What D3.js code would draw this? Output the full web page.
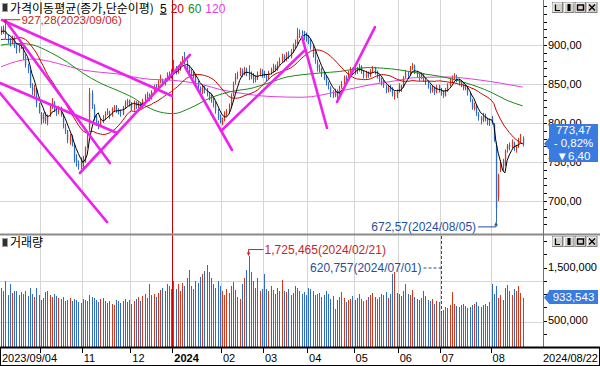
<!DOCTYPE html>
<html>
<head>
<meta charset="utf-8">
<script src="https://cdn.jsdelivr.net/npm/d3@7"></script>
<style>
  body { margin: 0; background: #fff; }
  svg { display: block; }
</style>
</head>
<body>
<div id="chart"></div>
<script>
// ---- data (KOSDAQ daily 2023/09/04 - 2024/08/22) ----

// closes before the first visible day, only used for the 5/20 day averages
const priorCloses = [912, 908, 915, 902, 898, 890, 886, 884, 893, 899, 905, 912, 916, 921, 915, 909, 917, 924, 912];

// [open, high, low, close] per trading day
const candles = [
  // 2023/09
  [915,924,913,921],[922,925,914,917],[918,927.28,908,912],[910,913,902,906],[905,909,898,904],
  [903,912,901,908],[909,911,896,899],[898,901,889,893],[892,900,890,898],[899,905,895,901],
  [898,900,881,884],[885,888,871,874],[872,876,864,868],[866,868,845,848],[846,851,836,842],
  [840,849,834,845],[843,845,820,825],[822,826,812,815],
  // 10
  [812,814,798,805],[803,813,800,810],[811,814,799,803],[800,811,797,808],[810,823,808,820],
  [821,832,818,827],[826,828,814,818],[816,820,809,814],[813,822,811,818],[819,821,808,812],
  [810,812,793,796],[795,799,786,790],[789,791,774,778],[776,786,772,782],[783,785,770,775],
  [772,774,749,752],[754,760,744,750],[748,752,740,745],[744,756,741,752],
  // 11
  [754,758,742,748],[750,770,749,768],[770,787,768,784],[792,845,790,839],[838,842,818,822],
  [820,824,803,806],[808,811,796,800],[799,803,792,798],[797,806,795,803],[802,810,800,806],
  [808,815,805,812],[813,819,810,815],[814,816,805,808],[809,820,808,818],[819,823,815,820],
  [821,823,813,817],[816,819,811,815],[815,817,808,812],[811,822,810,820],[821,829,819,826],
  [825,831,822,828],[829,830,821,826],
  // 12
  [825,827,816,820],[818,829,816,826],[827,828,818,822],[821,828,819,825],[826,827,817,821],
  [820,831,819,829],[830,837,828,834],[835,840,831,836],[837,838,828,832],[831,842,830,840],
  [841,849,839,846],[848,850,840,844],[843,855,842,852],[853,862,851,858],[855,857,847,851],
  [850,858,848,855],[854,865,853,862],[863,866,855,858],[859,869,857,866],
  // 2024/01
  [866,881,865,872],[871,873,862,866],[865,874,863,870],[869,879,867,876],[877,886,874,880],
  [882,891,875,878],[878,881,866,870],[872,874,862,866],[867,869,856,860],[859,866,857,862],
  [861,863,849,852],[851,854,842,846],[845,847,835,840],[839,849,837,845],[846,848,838,842],
  [843,845,834,838],[837,840,829,834],[835,838,826,830],[829,832,820,826],[825,828,812,816],
  [814,818,804,808],[807,811,799.5,801],
  // 02
  [799,807,797,803],[804,815,802,812],[811,818,808,815],[814,825,812,822],[823,838,821,835],
  [836,853,834,850],[852,864,849,860],[861,866,856,862],[863,871,860,866],[867,870,859,864],
  [863,872,861,868],[869,871,860,865],[866,874,855,860],[859,866,856,862],[862,864,851,856],
  [855,861,852,858],[857,866,855,862],[863,870,860,866],[867,869,858,862],
  // 03
  [863,867,858,862],[861,863,853,858],[857,867,855,864],[865,871,862,868],[867,876,865,872],
  [873,875,866,870],[869,879,867,876],[877,884,874,880],[881,889,878,885],[886,888,878,882],
  [881,891,879,888],[889,892,882,886],[885,895,883,892],[893,902,890,900],[901,907,896,904],
  [903,922,901,912],[913,920,909,916],[917,919,910,915],[916,918,906,914],[913,916,904,910],
  // 04
  [911,913,901,905],[906,908,894,898],[897,899,884,888],[889,892,876,880],[878,881,866,870],
  [869,875,865,868],[869,871,859,862],[861,866,855,858],[859,861,848,852],[850,853,843,848],
  [845,847,833,838],[837,842,832,836],[835,844,833,840],[841,843,830,834],[833,848,832,845],
  [846,854,844,850],[851,861,849,858],[859,861,852,856],[855,867,854,864],[865,872,862,868],
  [869,871,861,866],
  // 05
  [865,873,862,870],[869,872,863,868],[869,876,866,872],[873,874,863,866],[866,868,857,860],
  [859,867,857,864],[865,866,858,862],[861,869,859,866],[867,873,864,870],[871,872,862,865],
  [866,867,857,860],[860,862,852,856],[857,858,848,852],[853,855,845,848],[846,849,838,842],
  [841,849,839,846],[847,849,840,844],[845,846,834,838],[834,841,830,839],[837,843,832,840],
  // 06
  [841,851,839,848],[847,849,840,845],[846,860,845,858],[859,868,857,865],[864,866,857,862],
  [863,873,861,870],[871,877,868,872],[873,875,863,866],[865,867,858,862],[861,863,854,858],
  [857,865,856,862],[863,864,853,856],[855,858,849,852],[851,853,844,848],[847,849,838,842],
  [841,848,839,845],[846,847,836,840],[839,849,838,846],[847,849,839,842],
  // 07
  [843,845,835,840],[839,842,832,836],[835,845,834,842],[841,851,840,848],[849,858,847,855],
  [854,861,852,858],[859,864,855,860],[861,862,852,856],[855,857,848,852],[853,855,846,850],
  [849,851,842,845],[844,850,842,846],[845,847,835,838],[837,839,827,830],[829,831,817,820],
  [818,826,816,822],[821,823,809,812],[811,814,803,808],[807,809,798,804],[803,813,801,810],
  [809,812,802,806],[805,807,797,802],[801,806,796,800],
  // 08
  [805,809,798,802],[798,800,776,779],[772,776,672.57,691],[705,735,700,733],[740,752,737,749],
  [752,754,738,743],[747,766,745,764],[766,773,762,771],[772,775,765,769],[771,779,768,776],
  [774,776,764,768],[767,772,762,769],[770,781,768,777],[778,786,775,779.87],[780,783,770,773.47]
];

// volume per day, thousands of units
const volumes = [
  1110,1060,1250,990,1180,1020,1060,1050,980,1040,1000,1060,960,1120,1000,940,1110,980,
  880,920,1040,1050,980,940,1000,960,930,900,950,870,880,920,860,900,880,850,830,
  900,880,860,980,940,920,880,850,900,930,870,830,860,820,800,880,860,830,870,900,850,880,
  820,860,900,940,870,960,1000,920,1190,980,1000,950,1020,1080,1120,1060,1180,1150,1100,
  1240,1100,1180,1050,1200,1150,1300,1460,1150,1100,1250,1200,1320,1380,1430,1550,1420,1300,1180,1120,1250,1160,
  1050,980,1100,1020,1160,1220,1080,940,900,1180,1300,1450,1725.465,1420,1240,1120,1300,1050,1100,
  1370,1100,1060,1160,1080,1000,1120,1050,1260,1060,1040,1100,980,1020,1150,1120,1060,1000,1040,980,
  1120,1100,1060,980,1000,1020,950,980,1060,1000,900,960,720,880,940,1040,920,850,880,900,960,
  880,920,1000,900,860,890,940,980,1020,950,900,940,1000,980,1040,920,1000,1380,1420,1010,
  1000,960,1050,1190,1000,980,1080,940,900,880,920,1050,960,880,860,900,820,860,840,
  620.757,700,760,740,800,1030,820,780,760,800,820,780,740,760,800,820,850,780,760,800,820,780,840,
  1180,1000,1160,920,980,880,1120,1170,1050,980,1100,1060,1150,1020,933.543
];

// 60 and 120 day averages as [day index, value]
const ma60Pts = [[0,900],[8.6,902],[14.5,900],[22,891],[30,878],[37,864],[45,851],[52.5,842],[60,832],
  [66,821],[72,814],[78,812],[85.5,819],[94.6,832],[103.6,840],[114,845],[121.7,852],[129.4,859],
  [136.7,862],[144,864],[153,866],[165.6,871],[180.5,868],[186.5,865],[201.8,858],[210.8,851],
  [221.3,840],[229,829],[236,822]];
const ma120Pts = [[0,872],[8.6,880],[14.5,882],[22,879],[30,873],[37,868],[45,865],[52.5,863],
  [60,859],[67.4,856],[76.5,855],[91.4,849],[99,843],[106.8,839],[121.7,834],[136.7,833],[152,840],
  [167,849],[180.5,855],[186.5,858],[201.8,859],[216.8,855],[236,846]];

// hand drawn trend lines [index1, price1, index2, price2]
const trendLines = [
  [0.45,932,77.4,834.6],[1.8,932,49.3,748.7],[-0.45,851.3,52.5,787.2],[-0.45,838.5,48,673],
  [35.7,735.9,85.5,887.2],[83.3,871.8,104.5,765.4],[100,791,137.6,893.6],
  [136.2,910.3,147.5,793.6],[152,826.9,169.2,923]
];

const monthStarts = [18, 37, 59, 78, 100, 119, 139, 160, 180, 199, 222];
const monthLabels = ["", "11", "12", "2024", "02", "03", "04", "05", "06", "07", "08"];
const firstDate = "2023/09/04", lastDate = "2024/08/22";

const priceTicks = [900, 850, 800, 750, 700];
const priceTickLabels = ["900,00", "850,00", "800,00", "750,00", "700,00"];
const volTicks = [1500, 1000, 500];
const volTickLabels = ["1,500,000", "1,000,000", "500,000"];
const volGrid = [1240, 470];

const maPeriods = [5, 20, 60, 120];
const maColors = ["#000000", "#cc0000", "#1a8a1a", "#e040e0"];

// ---- layout ----
const W = 600, H = 366, plotR = 543;
const priceTop = 0, priceBot = 234, volTop = 235, volBot = 347;
const upC = "#d4381c", dnC = "#2f6cc6";
const FONT = "'Liberation Sans', Arial, sans-serif";
const KFONT = "'Noto Sans CJK KR', 'Noto Sans', sans-serif";

const svg = d3.select("#chart").append("svg")
  .attr("width", W).attr("height", H)
  .style("font-family", FONT);

svg.append("rect").attr("width", W).attr("height", H).attr("fill", "#fff");

const x = d3.scaleLinear().domain([0, 236]).range([1, 522.6]);
const y = d3.scaleLinear().domain([700, 900]).range([201, 45]);
const yv = d3.scaleLinear().domain([0, 2000]).range([volBot, volBot - 106]);

const defs = svg.append("defs");
defs.append("clipPath").attr("id", "clipP").append("rect")
  .attr("x", 0).attr("y", priceTop).attr("width", plotR).attr("height", priceBot - priceTop);
defs.append("clipPath").attr("id", "clipV").append("rect")
  .attr("x", 0).attr("y", volTop).attr("width", plotR).attr("height", volBot - volTop);

// gridlines
const grid = svg.append("g").attr("shape-rendering", "crispEdges").attr("stroke", "#d6d6d6");
grid.selectAll("line.hp").data(priceTicks).join("line")
  .attr("x1", 0).attr("x2", plotR).attr("y1", d => Math.round(y(d)) + 0.5).attr("y2", d => Math.round(y(d)) + 0.5);
grid.selectAll("line.hv").data(volGrid).join("line")
  .attr("x1", 0).attr("x2", plotR).attr("y1", d => Math.round(yv(d)) + 0.5).attr("y2", d => Math.round(yv(d)) + 0.5);
grid.selectAll("line.vm").data(monthStarts.filter((d, i) => monthLabels[i] !== "2024")).join("line")
  .attr("x1", d => Math.round(x(d - 0.5)) + 0.5).attr("x2", d => Math.round(x(d - 0.5)) + 0.5)
  .attr("y1", 0).attr("y2", volBot);

// year boundary
const yearX = Math.round(x(monthStarts[3] - 0.5)) + 0.5;
svg.append("line").attr("x1", yearX).attr("x2", yearX).attr("y1", 0).attr("y2", volBot)
  .attr("stroke", "#d00000").attr("shape-rendering", "crispEdges");

// ---- price pane ----
const gP = svg.append("g").attr("clip-path", "url(#clipP)");

const cg = gP.append("g");
cg.selectAll("line").data(candles).join("line")
  .attr("x1", (d, i) => Math.round(x(i)) + 0.5).attr("x2", (d, i) => Math.round(x(i)) + 0.5)
  .attr("y1", d => y(d[1])).attr("y2", d => y(d[2]))
  .attr("stroke", d => d[3] >= d[0] ? upC : dnC).attr("stroke-width", 1);
cg.selectAll("rect").data(candles).join("rect")
  .attr("x", (d, i) => Math.round(x(i)) - 0.1).attr("width", 1.3)
  .attr("y", d => y(Math.max(d[0], d[3])))
  .attr("height", d => Math.max(1, Math.abs(y(d[0]) - y(d[3]))))
  .attr("fill", d => d[3] >= d[0] ? upC : dnC);

// moving averages
const allCloses = priorCloses.concat(candles.map(d => d[3]));
const off = priorCloses.length;
function movingAvg(n) {
  return candles.map((d, i) => [i, d3.mean(allCloses.slice(i + off - n + 1, i + off + 1))]);
}
const line = d3.line().x(d => x(d[0])).y(d => y(d[1]));
const smooth = d3.line().x(d => x(d[0])).y(d => y(d[1])).curve(d3.curveMonotoneX);

gP.append("path").attr("d", smooth(ma120Pts)).attr("fill", "none").attr("stroke", maColors[3]).attr("stroke-width", 1);
gP.append("path").attr("d", smooth(ma60Pts)).attr("fill", "none").attr("stroke", maColors[2]).attr("stroke-width", 1);
gP.append("path").attr("d", line(movingAvg(20))).attr("fill", "none").attr("stroke", maColors[1]).attr("stroke-width", 1);
gP.append("path").attr("d", line(movingAvg(5))).attr("fill", "none").attr("stroke", maColors[0]).attr("stroke-width", 1);

// trend lines
gP.selectAll("line.trend").data(trendLines).join("line")
  .attr("x1", d => x(d[0])).attr("y1", d => y(d[1]))
  .attr("x2", d => x(d[2])).attr("y2", d => y(d[3]))
  .attr("stroke", "#ee22ee").attr("stroke-width", 2.6).attr("stroke-linecap", "round");

// high / low markers
const hiI = d3.maxIndex(candles, d => d[1]);
const loI = d3.minIndex(candles, d => d[2]);
const hx = x(hiI), hy = y(candles[hiI][1]);
svg.append("path").attr("d", `M${hx},${hy}V${hy - 4}H${hx + 15}`)
  .attr("fill", "none").attr("stroke", "#c02828");
svg.append("path").attr("d", `M${hx - 2},${hy - 3}L${hx},${hy}L${hx + 2},${hy - 3}Z`).attr("fill", "#c02828");
svg.append("text").attr("x", hx + 16).attr("y", hy - 4).attr("dy", "0.35em")
  .attr("fill", "#c02828").style("font-size", "11.5px")
  .text(`${d3.format(".2f")(candles[hiI][1]).replace(".", ",")}(2023/09/06)`);

const lx = x(loI), ly = y(candles[loI][2]);
svg.append("path").attr("d", `M${lx},${ly}V${ly + 4.5}H${lx - 18}`)
  .attr("fill", "none").attr("stroke", "#1f4f9e");
svg.append("path").attr("d", `M${lx - 2},${ly + 3}L${lx},${ly}L${lx + 2},${ly + 3}Z`).attr("fill", "#1f4f9e");
svg.append("text").attr("x", lx - 20).attr("y", ly + 4.5).attr("dy", "0.35em")
  .attr("text-anchor", "end").attr("fill", "#1f4f9e").style("font-size", "12px")
  .text(`${d3.format(".2f")(candles[loI][2]).replace(".", ",")}(2024/08/05)`);

// ---- volume pane ----
const gV = svg.append("g").attr("clip-path", "url(#clipV)");
gV.selectAll("rect").data(volumes).join("rect")
  .attr("shape-rendering", "crispEdges")
  .attr("x", (d, i) => Math.round(x(i))).attr("width", 1)
  .attr("y", d => yv(d)).attr("height", d => volBot - yv(d))
  .attr("fill", (d, i) => candles[i][3] >= candles[i][0] ? upC : dnC);

const vMaxI = d3.maxIndex(volumes), vMinI = d3.minIndex(volumes);
const vmx = x(vMaxI), vmy = yv(volumes[vMaxI]);
svg.append("path").attr("d", `M${vmx},${vmy}V${vmy - 6}H${vmx + 15}`)
  .attr("fill", "none").attr("stroke", "#c02828");
svg.append("path").attr("d", `M${vmx - 2},${vmy - 3}L${vmx},${vmy}L${vmx + 2},${vmy - 3}Z`).attr("fill", "#c02828");
svg.append("text").attr("x", vmx + 16).attr("y", vmy - 6).attr("dy", "0.35em")
  .attr("fill", "#c02828").style("font-size", "12px")
  .text(`${d3.format(",")(Math.round(volumes[vMaxI] * 1000))}(2024/02/21)`);

const vnx = Math.round(x(vMinI)) + 0.5, vny = yv(volumes[vMinI]);
svg.append("path").attr("d", `M${vnx},${volTop + 1}V${vny}M${vnx},268H${vnx - 18}`)
  .attr("fill", "none").attr("stroke", "#1f4f9e").attr("stroke-dasharray", "3,2");
svg.append("text").attr("x", vnx - 20).attr("y", 268).attr("dy", "0.35em")
  .attr("text-anchor", "end").attr("fill", "#1f4f9e").style("font-size", "12px")
  .text(`${d3.format(",")(Math.round(volumes[vMinI] * 1000))}(2024/07/01)`);

// ---- pane titles ----
function paneIcon(yy) {
  svg.append("rect").attr("x", 2.5).attr("y", yy + 0.5).attr("width", 5).attr("height", 8)
    .attr("fill", "#303030").attr("stroke", "#a0a0a0");
}
paneIcon(3);
const title = svg.append("text").attr("x", 10).attr("y", 12.5).style("font-size", "12px");
title.append("tspan").style("font-family", KFONT).attr("fill", "#000").text("가격이동평균(종가,단순이평)");
maPeriods.forEach((p, i) => {
  title.append("tspan").attr("dx", i === 0 ? 6 : 4).attr("fill", maColors[i])
    .style("text-decoration", i === 0 ? "underline" : null).text(p);
});
paneIcon(238);
svg.append("text").attr("x", 10).attr("y", 247).style("font-size", "12px").style("font-family", KFONT)
  .attr("fill", "#000").text("거래량");

// ---- separators and axes ----
svg.append("line").attr("x1", 0).attr("x2", W).attr("y1", 234.5).attr("y2", 234.5)
  .attr("stroke", "#8a8a8a").attr("stroke-width", 2);
svg.append("line").attr("x1", plotR + 0.5).attr("x2", plotR + 0.5).attr("y1", 0).attr("y2", volBot)
  .attr("stroke", "#707070");

const ax = svg.append("g").attr("shape-rendering", "crispEdges").attr("stroke", "#000");
ax.selectAll("line.pm").data(d3.range(660, 960, 10).filter(v => y(v) > 1 && y(v) < priceBot - 2)).join("line")
  .attr("x1", plotR + 1).attr("x2", plotR + 4)
  .attr("y1", d => Math.round(y(d)) + 0.5).attr("y2", d => Math.round(y(d)) + 0.5);
ax.selectAll("line.vm").data(d3.range(0, 2250, 250).filter(v => yv(v) > volTop + 3 && yv(v) < volBot - 2)).join("line")
  .attr("x1", plotR + 1).attr("x2", plotR + 4)
  .attr("y1", d => Math.round(yv(d)) + 0.5).attr("y2", d => Math.round(yv(d)) + 0.5);

svg.selectAll("text.pt").data(priceTicks).join("text")
  .attr("x", plotR + 5).attr("y", d => y(d)).attr("dy", "0.35em")
  .style("font-size", "11px").attr("fill", "#000")
  .text((d, i) => priceTickLabels[i]);
svg.selectAll("text.vt").data(volTicks).join("text")
  .attr("x", plotR + 5).attr("y", d => yv(d)).attr("dy", "0.35em")
  .style("font-size", "11px").attr("fill", "#000")
  .text((d, i) => volTickLabels[i]);

// last value badges
function badge(yc, y0, y1, lines) {
  const bx = plotR + 6, bw = 49;
  svg.append("path")
    .attr("d", `M${plotR + 1},${yc}L${bx},${yc - 6}V${y0}H${bx + bw}V${y1}H${bx}V${yc + 6}Z`)
    .attr("fill", "#3a7be0");
  lines.forEach((t, k) => {
    svg.append("text").attr("x", bx + bw / 2).attr("y", y0 + (y1 - y0) * (k + 0.5) / lines.length)
      .attr("dy", "0.36em").attr("text-anchor", "middle").attr("fill", "#fff")
      .style("font-size", "11.5px").text(t);
  });
}
const last = candles[candles.length - 1], prev = candles[candles.length - 2];
const chg = last[3] - prev[3];
badge(y(last[3]), 124, 162, [
  d3.format(".2f")(last[3]).replace(".", ","),
  "- " + d3.format(".2f")(Math.abs(chg / prev[3] * 100)).replace(".", ",") + "%",
  "▼" + d3.format(".2f")(Math.abs(chg)).replace(".", ",")
]);
badge(yv(volumes[volumes.length - 1]), 290, 304, [d3.format(",")(Math.round(volumes[volumes.length - 1] * 1000))]);

// window buttons
function buttons(yy) {
  const g = svg.append("g").attr("transform", `translate(552,${yy})`);
  ["L", "I", "box", "x"].forEach((b, k) => {
    const bx = k * 11.5;
    g.append("rect").attr("x", bx + 0.5).attr("y", 0.5).attr("width", 10).attr("height", 10)
      .attr("fill", "#d4d0c8").attr("stroke", "#808080");
    g.append("path").attr("d", `M${bx + 1},10V1H${bx + 10}`).attr("fill", "none").attr("stroke", "#fff");
    if (b === "L") g.append("path").attr("d", `M${bx + 3.5},2.5V8.5H${bx + 8}`).attr("fill", "none").attr("stroke", "#000").attr("stroke-width", 1.2);
    if (b === "I") g.append("rect").attr("x", bx + 4).attr("y", 2).attr("width", 3).attr("height", 7).attr("fill", "#000");
    if (b === "box") g.append("rect").attr("x", bx + 2.5).attr("y", 3).attr("width", 6).attr("height", 5)
      .attr("fill", "none").attr("stroke", "#000").attr("stroke-width", 1.4);
    if (b === "x") g.append("path").attr("d", `M${bx + 2.5},2.5L${bx + 8.5},8.5M${bx + 8.5},2.5L${bx + 2.5},8.5`)
      .attr("stroke", "#000").attr("stroke-width", 1.3);
  });
}
buttons(2);
buttons(236);

// ---- bottom date axis ----
svg.append("rect").attr("x", 0.5).attr("y", volBot + 0.5).attr("width", W - 1).attr("height", H - volBot - 1)
  .attr("fill", "#fff").attr("stroke", "#000");
svg.append("line").attr("x1", 0).attr("x2", W).attr("y1", volBot + 0.5).attr("y2", volBot + 0.5)
  .attr("stroke", "#000").attr("stroke-width", 2);
svg.selectAll("line.mt").data(monthStarts).join("line")
  .attr("x1", d => Math.round(x(d - 0.5)) + 0.5).attr("x2", d => Math.round(x(d - 0.5)) + 0.5)
  .attr("y1", volBot).attr("y2", volBot + 6).attr("stroke", "#000").attr("shape-rendering", "crispEdges");
svg.selectAll("text.ml").data(monthStarts).join("text")
  .attr("x", d => x(d - 0.5) + 2).attr("y", 362)
  .style("font-size", "11px").style("font-weight", (d, i) => monthLabels[i] === "2024" ? "bold" : null)
  .attr("fill", "#000").text((d, i) => monthLabels[i]);
svg.append("text").attr("x", 2).attr("y", 362).style("font-size", "11px").text(firstDate);
svg.append("text").attr("x", 598).attr("y", 362).attr("text-anchor", "end").style("font-size", "11px").text(lastDate);
</script>
</body>
</html>
